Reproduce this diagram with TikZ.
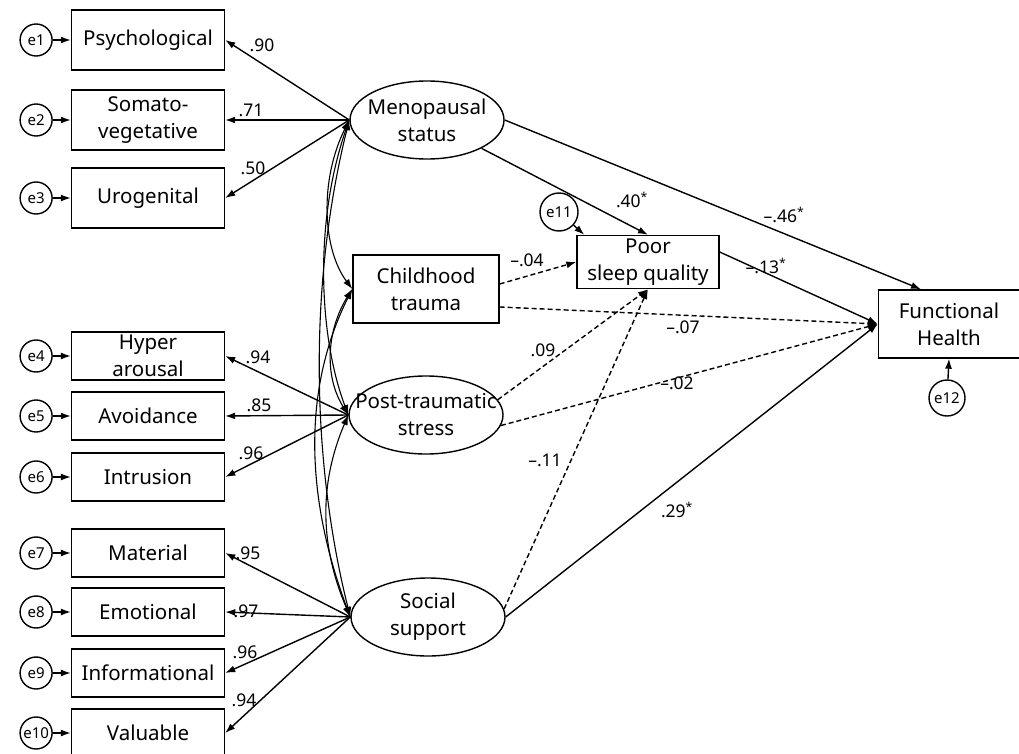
\documentclass[tikz,border=0pt]{standalone}
\usepackage{fontspec}
\setmainfont{Noto Sans}
\usetikzlibrary{positioning, shapes.geometric, arrows.meta}

\begin{document}
\begin{tikzpicture}[x=1pt, y=-1pt, line width=1.4pt,
  font=\fontsize{20.5}{27}\selectfont,
  >={Latex[length=10pt,width=7pt]},
  obs/.style = {draw, rectangle, minimum width=153pt, minimum height=48pt, inner sep=0pt, align=center},
  lat/.style = {draw, ellipse, minimum width=154pt, minimum height=78pt, inner xsep=-20pt, inner ysep=0pt, align=center},
  err/.style = {draw, circle, minimum size=32pt, inner sep=0pt, font=\fontsize{15}{16}\selectfont},
  coef/.style = {inner sep=1pt, font=\fontsize{17.5}{18}\selectfont},
  cov/.style = {<->, line width=1.1pt},
  dsh/.style = {->, dash pattern=on 5pt off 3pt}]
\useasboundingbox (0,0) rectangle (1019,754);

% indicators
\node[obs, minimum height=60pt] (psy) at (148,40) {Psychological};
\node[obs, minimum height=60pt] (som) at (148,120) {Somato-\\vegetative};
\node[obs, minimum height=60pt] (uro) at (148,198) {Urogenital};
\node[obs] (hyp) at (148,356) {Hyper\\arousal};
\node[obs] (avo) at (148,416) {Avoidance};
\node[obs] (int) at (148,477) {Intrusion};
\node[obs] (mat) at (148,553) {Material};
\node[obs] (emo) at (148,612) {Emotional};
\node[obs] (inf) at (148,673) {Informational};
\node[obs] (val) at (148,733) {Valuable};

% errors
\node[err] (e1) [left=18pt of psy] {e1};
\node[err] (e2) [left=18pt of som] {e2};
\node[err] (e3) [left=18pt of uro] {e3};
\node[err] (e4) [left=18pt of hyp] {e4};
\node[err] (e5) [left=18pt of avo] {e5};
\node[err] (e6) [left=18pt of int] {e6};
\node[err] (e7) [left=18pt of mat] {e7};
\node[err] (e8) [left=18pt of emo] {e8};
\node[err] (e9) [left=18pt of inf] {e9};
\node[err] (e10) [left=18pt of val] {e10};

% latents and outcomes
\node[lat] (meno) at (427,120) {Menopausal\\status};
\node[obs, minimum width=146pt, minimum height=68pt] (child) at (426,289) {Childhood\\trauma};
\node[lat] (pts) at (426,415) {Post-traumatic\\stress};
\node[lat] (soc) at (428,617) {Social\\support};
\node[obs, minimum width=142pt, minimum height=53pt] (sleep) at (648,262) {Poor\\sleep quality};
\node[obs, minimum width=141pt, minimum height=68pt] (func) at (949,324) {Functional\\Health};
\node[err, minimum size=38pt] (e11) at (559,212) {e11};
\node[err, minimum size=36pt] (e12) at (947,398) {e12};

\foreach \e/\b in {e1/psy, e2/som, e3/uro, e4/hyp, e5/avo, e6/int, e7/mat, e8/emo, e9/inf, e10/val}
  \draw[->] (\e) -- (\b);

% loadings
\foreach \b in {psy, som, uro}
  \draw[->] (meno.west) -- (\b.east);
\foreach \b in {hyp, avo, int}
  \draw[->] (pts.west) -- (\b.east);
\foreach \b in {mat, emo, inf, val}
  \draw[->] (soc.west) -- (\b.east);

% covariances
\draw[cov] (meno.west) .. controls +(-30,60) and +(-30,-40) .. (child.west);
\draw[cov] (meno.west) .. controls +(-35,100) and +(-30,-80) .. (pts.west);
\draw[cov] (meno.west) .. controls +(-40,160) and +(-40,-160) .. (soc.west);
\draw[cov] (child.west) .. controls +(-25,40) and +(-25,-40) .. (pts.west);
\draw[cov] (child.west) .. controls +(-50,100) and +(-45,-120) .. (soc.west);
\draw[cov] (pts.west) .. controls +(-30,70) and +(-30,-70) .. (soc.west);

% structural paths
\draw[->] (meno) -- (sleep.north);
\draw[->] (meno.east) -- ([xshift=-28pt]func.north);
\draw[->] ([yshift=10pt]sleep.east) -- (func.west);
\draw[dsh] ([yshift=5pt]child.east) -- (sleep.west);
\draw[dsh] ([yshift=-18pt]child.east) -- (func.west);
\draw[dsh] (pts.12) -- (sleep.south);
\draw[dsh] (pts.-8) -- (func.west);
\draw[dsh] (soc.6) -- (sleep.south);
\draw[->] (soc.east) -- (func.west);
\draw[->] (e11) -- ([xshift=8pt]sleep.north west);
\draw[->] (e12) -- (func.south);

% coefficients
\node[coef] (l90) at (262,45) {.90};
\node[coef] (l71) at (251,110) {.71};
\node[coef] (l50) at (253,168) {.50};
\node[coef] (l94a) at (258,357) {.94};
\node[coef] (l85) at (259,405) {.85};
\node[coef] (l96a) at (251,453) {.96};
\node[coef] (l95) at (248,553) {.95};
\node[coef] (l97) at (246,611) {.97};
\node[coef] (l96b) at (245,652) {.96};
\node[coef] (l94b) at (244,700) {.94};
\node[coef] (l40) at (632,200) {.40\textsuperscript{*}};
\node[coef] (l46) at (784,215) {–.46\textsuperscript{*}};
\node[coef] (l04) at (527,260) {–.04};
\node[coef] (l13) at (766,266) {–.13\textsuperscript{*}};
\node[coef] (l07) at (683,327) {–.07};
\node[coef] (l09) at (543,350) {.09};
\node[coef] (l02) at (677,383) {–.02};
\node[coef] (l11) at (545,460) {–.11};
\node[coef] (l29) at (677,510) {.29\textsuperscript{*}};
\end{tikzpicture}
\end{document}
